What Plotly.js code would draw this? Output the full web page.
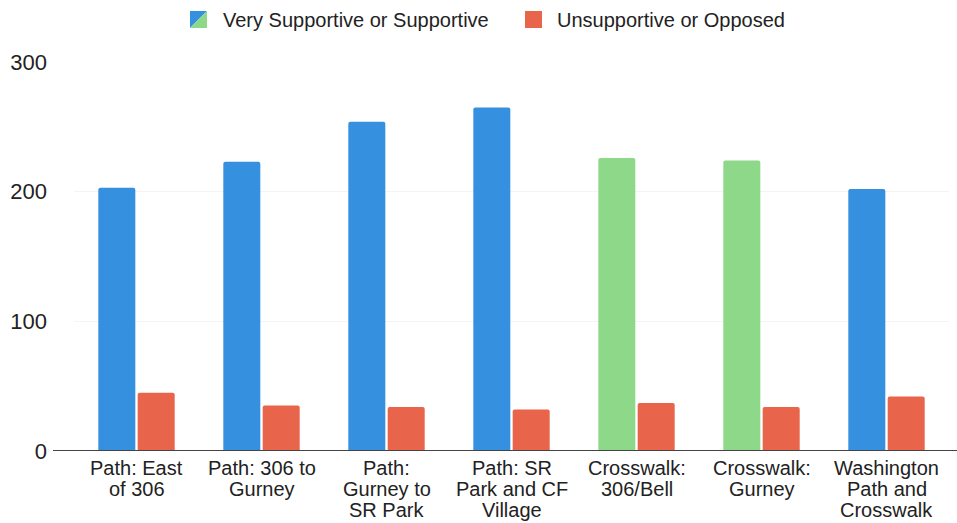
<!DOCTYPE html>
<html><head><meta charset="utf-8">
<script src="https://cdn.plot.ly/plotly-3.0.1.min.js"></script>
<style>html,body{margin:0;padding:0;background:#fff;}#chart{width:957px;height:523px;}</style>
</head><body><div id="chart"></div>
<script>
const categories = ["Path: East<br>of 306", "Path: 306 to<br>Gurney", "Path:<br>Gurney to<br>SR Park", "Path: SR<br>Park and CF<br>Village", "Crosswalk:<br>306/Bell", "Crosswalk:<br>Gurney", "Washington<br>Path and<br>Crosswalk"];
const supportive = [203, 223, 254, 265, 226, 224, 202];
const opposed = [45, 35, 34, 32, 37, 34, 42];
const supportiveColors = ["#3591e0", "#3591e0", "#3591e0", "#3591e0", "#8ed88a", "#8ed88a", "#3591e0"];
const seriesNames = ["Very Supportive or Supportive", "Unsupportive or Opposed"];
const yTicks = [0, 100, 200, 300];

const BLUE = "#3591e0", GREEN = "#8ed88a", RED = "#e8644b";
const W = 957, H = 523, ML = 74, MR = 8, MT = 62, MB = 72;
const PW = W - ML - MR, PH = H - MT - MB;
const px = x => (x - ML) / PW;
const py = y => (H - MB - y) / PH;

const data = [
  {type: "bar", name: seriesNames[0], x: categories, y: supportive, marker: {color: supportiveColors}},
  {type: "bar", name: seriesNames[1], x: categories, y: opposed, marker: {color: RED}}
];

// manual legend (first swatch split blue/green diagonally)
const sw1 = {x0: 190, x1: 207, y0: 11, y1: 28};
const sw2 = {x0: 525, x1: 542, y0: 11, y1: 28};
const shapes = [
  {type: "path", xref: "paper", yref: "paper", line: {width: 0}, fillcolor: BLUE,
   path: `M ${px(sw1.x0)} ${py(sw1.y0)} L ${px(sw1.x1)} ${py(sw1.y0)} L ${px(sw1.x0)} ${py(sw1.y1)} Z`},
  {type: "path", xref: "paper", yref: "paper", line: {width: 0}, fillcolor: GREEN,
   path: `M ${px(sw1.x1)} ${py(sw1.y0)} L ${px(sw1.x1)} ${py(sw1.y1)} L ${px(sw1.x0)} ${py(sw1.y1)} Z`},
  {type: "rect", xref: "paper", yref: "paper", line: {width: 0}, fillcolor: RED,
   x0: px(sw2.x0), x1: px(sw2.x1), y0: py(sw2.y1), y1: py(sw2.y0)},
  {type: "line", xref: "paper", yref: "y", x0: px(53), x1: px(957), y0: 0, y1: 0, line: {color: "#444", width: 2}, layer: "above"}
];
const annotations = [
  {xref: "paper", yref: "paper", x: px(221), y: py(20), xanchor: "left", yanchor: "middle", text: seriesNames[0], showarrow: false, font: {size: 20, color: "#222"}},
  {xref: "paper", yref: "paper", x: px(555), y: py(20), xanchor: "left", yanchor: "middle", text: seriesNames[1], showarrow: false, font: {size: 20, color: "#222"}}
];
// category labels, one annotation per line for tight line spacing
categories.forEach(c => {
  c.split("<br>").forEach((line, j) => {
    annotations.push({xref: "x", yref: "paper", x: c, y: py(468 + 21 * j), xanchor: "center", yanchor: "middle",
      text: line, showarrow: false, font: {size: 20, color: "#222"}});
  });
});

const layout = {
  width: W, height: H,
  margin: {l: ML, r: MR, t: MT, b: MB},
  paper_bgcolor: "#fff", plot_bgcolor: "#fff",
  font: {family: "Liberation Sans, Arial, sans-serif", size: 18, color: "#222"},
  barmode: "group", bargap: 0.37, bargroupgap: 0.06, barcornerradius: 2,
  showlegend: false,
  shapes: shapes, annotations: annotations,
  xaxis: {type: "category", showticklabels: false, showgrid: false, showline: false, ticks: "", automargin: false},
  yaxis: {range: [0, 300], tickvals: yTicks, ticktext: yTicks.map(String), tickfont: {size: 22, color: "#222"}, showgrid: true, gridcolor: "#f4f4f4", zeroline: false, ticks: "", ticklabelstandoff: 26, automargin: false}
};
Plotly.newPlot("chart", data, layout, {displayModeBar: false, staticPlot: true});
</script></body></html>
